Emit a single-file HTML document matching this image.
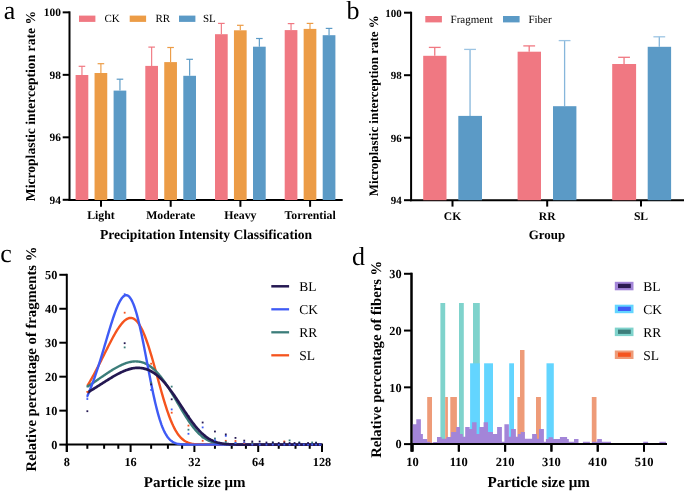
<!DOCTYPE html>
<html><head><meta charset="utf-8"><style>
html,body{margin:0;padding:0;background:#fff;}
svg{display:block;filter:blur(0.4px);font-family:"Liberation Serif",serif;text-rendering:geometricPrecision;}
</style></head><body>
<svg width="685" height="492" viewBox="0 0 685 492">
<rect width="685" height="492" fill="#fff"/>
<text x="3.80" y="18.90" font-size="26" font-weight="normal" text-anchor="start" >a</text>
<line x1="69.50" y1="11.36" x2="69.50" y2="201.00" stroke="#000" stroke-width="2" />
<line x1="68.50" y1="200.00" x2="342.70" y2="200.00" stroke="#000" stroke-width="2" />
<line x1="62.70" y1="12.36" x2="69.50" y2="12.36" stroke="#000" stroke-width="2" />
<text x="60.90" y="16.26" font-size="11.4" font-weight="bold" text-anchor="end" >100</text>
<line x1="62.70" y1="74.84" x2="69.50" y2="74.84" stroke="#000" stroke-width="2" />
<text x="60.90" y="78.74" font-size="11.4" font-weight="bold" text-anchor="end" >98</text>
<line x1="62.70" y1="137.32" x2="69.50" y2="137.32" stroke="#000" stroke-width="2" />
<text x="60.90" y="141.22" font-size="11.4" font-weight="bold" text-anchor="end" >96</text>
<line x1="62.70" y1="199.80" x2="69.50" y2="199.80" stroke="#000" stroke-width="2" />
<text x="60.90" y="203.70" font-size="11.4" font-weight="bold" text-anchor="end" >94</text>
<line x1="101.00" y1="200.00" x2="101.00" y2="206.80" stroke="#000" stroke-width="2" />
<text x="101.00" y="218.90" font-size="11.8" font-weight="bold" text-anchor="middle" >Light</text>
<line x1="170.70" y1="200.00" x2="170.70" y2="206.80" stroke="#000" stroke-width="2" />
<text x="170.70" y="218.90" font-size="11.8" font-weight="bold" text-anchor="middle" >Moderate</text>
<line x1="240.40" y1="200.00" x2="240.40" y2="206.80" stroke="#000" stroke-width="2" />
<text x="240.40" y="218.90" font-size="11.8" font-weight="bold" text-anchor="middle" >Heavy</text>
<line x1="310.10" y1="200.00" x2="310.10" y2="206.80" stroke="#000" stroke-width="2" />
<text x="310.10" y="218.90" font-size="11.8" font-weight="bold" text-anchor="middle" >Torrential</text>
<text x="206.00" y="239.20" font-size="13.62" font-weight="bold" text-anchor="middle" >Precipitation Intensity Classification</text>
<text transform="translate(35.30,106.10) rotate(-90)" font-size="13.6" font-weight="bold" text-anchor="middle">Microplastic interception rate %</text>
<line x1="81.95" y1="66.30" x2="81.95" y2="75.00" stroke="#F07882" stroke-width="1.15" />
<line x1="78.65" y1="66.30" x2="85.25" y2="66.30" stroke="#F07882" stroke-width="1.2" />
<rect x="75.60" y="75.00" width="12.70" height="125.00" fill="#F07882"/>
<line x1="100.90" y1="63.70" x2="100.90" y2="73.00" stroke="#EC9C46" stroke-width="1.15" />
<line x1="97.60" y1="63.70" x2="104.20" y2="63.70" stroke="#EC9C46" stroke-width="1.2" />
<rect x="94.55" y="73.00" width="12.70" height="127.00" fill="#EC9C46"/>
<line x1="119.95" y1="79.20" x2="119.95" y2="90.60" stroke="#5B9AC6" stroke-width="1.15" />
<line x1="116.65" y1="79.20" x2="123.25" y2="79.20" stroke="#5B9AC6" stroke-width="1.2" />
<rect x="113.60" y="90.60" width="12.70" height="109.40" fill="#5B9AC6"/>
<line x1="151.65" y1="47.10" x2="151.65" y2="65.90" stroke="#F07882" stroke-width="1.15" />
<line x1="148.35" y1="47.10" x2="154.95" y2="47.10" stroke="#F07882" stroke-width="1.2" />
<rect x="145.30" y="65.90" width="12.70" height="134.10" fill="#F07882"/>
<line x1="170.60" y1="47.50" x2="170.60" y2="62.10" stroke="#EC9C46" stroke-width="1.15" />
<line x1="167.30" y1="47.50" x2="173.90" y2="47.50" stroke="#EC9C46" stroke-width="1.2" />
<rect x="164.25" y="62.10" width="12.70" height="137.90" fill="#EC9C46"/>
<line x1="189.65" y1="59.30" x2="189.65" y2="75.80" stroke="#5B9AC6" stroke-width="1.15" />
<line x1="186.35" y1="59.30" x2="192.95" y2="59.30" stroke="#5B9AC6" stroke-width="1.2" />
<rect x="183.30" y="75.80" width="12.70" height="124.20" fill="#5B9AC6"/>
<line x1="221.35" y1="23.40" x2="221.35" y2="34.20" stroke="#F07882" stroke-width="1.15" />
<line x1="218.05" y1="23.40" x2="224.65" y2="23.40" stroke="#F07882" stroke-width="1.2" />
<rect x="215.00" y="34.20" width="12.70" height="165.80" fill="#F07882"/>
<line x1="240.30" y1="25.30" x2="240.30" y2="30.30" stroke="#EC9C46" stroke-width="1.15" />
<line x1="237.00" y1="25.30" x2="243.60" y2="25.30" stroke="#EC9C46" stroke-width="1.2" />
<rect x="233.95" y="30.30" width="12.70" height="169.70" fill="#EC9C46"/>
<line x1="259.35" y1="38.50" x2="259.35" y2="46.70" stroke="#5B9AC6" stroke-width="1.15" />
<line x1="256.05" y1="38.50" x2="262.65" y2="38.50" stroke="#5B9AC6" stroke-width="1.2" />
<rect x="253.00" y="46.70" width="12.70" height="153.30" fill="#5B9AC6"/>
<line x1="291.05" y1="23.60" x2="291.05" y2="30.10" stroke="#F07882" stroke-width="1.15" />
<line x1="287.75" y1="23.60" x2="294.35" y2="23.60" stroke="#F07882" stroke-width="1.2" />
<rect x="284.70" y="30.10" width="12.70" height="169.90" fill="#F07882"/>
<line x1="310.00" y1="23.40" x2="310.00" y2="28.90" stroke="#EC9C46" stroke-width="1.15" />
<line x1="306.70" y1="23.40" x2="313.30" y2="23.40" stroke="#EC9C46" stroke-width="1.2" />
<rect x="303.65" y="28.90" width="12.70" height="171.10" fill="#EC9C46"/>
<line x1="329.05" y1="28.40" x2="329.05" y2="35.20" stroke="#5B9AC6" stroke-width="1.15" />
<line x1="325.75" y1="28.40" x2="332.35" y2="28.40" stroke="#5B9AC6" stroke-width="1.2" />
<rect x="322.70" y="35.20" width="12.70" height="164.80" fill="#5B9AC6"/>
<rect x="79.00" y="15.60" width="16.40" height="6.30" fill="#F07882"/>
<text x="104.40" y="22.40" font-size="11" font-weight="normal" text-anchor="start" >CK</text>
<rect x="129.70" y="15.60" width="16.40" height="6.30" fill="#EC9C46"/>
<text x="155.40" y="22.40" font-size="11" font-weight="normal" text-anchor="start" >RR</text>
<rect x="179.00" y="15.60" width="16.40" height="6.30" fill="#5B9AC6"/>
<text x="203.00" y="22.40" font-size="11" font-weight="normal" text-anchor="start" >SL</text>
<text x="346.60" y="18.90" font-size="26" font-weight="normal" text-anchor="start" >b</text>
<line x1="411.10" y1="11.70" x2="411.10" y2="201.20" stroke="#000" stroke-width="2" />
<line x1="410.10" y1="200.20" x2="684.00" y2="200.20" stroke="#000" stroke-width="2" />
<line x1="404.00" y1="12.70" x2="411.10" y2="12.70" stroke="#000" stroke-width="2" />
<text x="401.70" y="16.50" font-size="11" font-weight="bold" text-anchor="end" >100</text>
<line x1="404.00" y1="75.20" x2="411.10" y2="75.20" stroke="#000" stroke-width="2" />
<text x="401.70" y="79.00" font-size="11" font-weight="bold" text-anchor="end" >98</text>
<line x1="404.00" y1="137.70" x2="411.10" y2="137.70" stroke="#000" stroke-width="2" />
<text x="401.70" y="141.50" font-size="11" font-weight="bold" text-anchor="end" >96</text>
<line x1="404.00" y1="200.20" x2="411.10" y2="200.20" stroke="#000" stroke-width="2" />
<text x="401.70" y="204.00" font-size="11" font-weight="bold" text-anchor="end" >94</text>
<line x1="452.50" y1="200.20" x2="452.50" y2="206.60" stroke="#000" stroke-width="2" />
<text x="452.50" y="219.50" font-size="11.6" font-weight="bold" text-anchor="middle" >CK</text>
<line x1="547.20" y1="200.20" x2="547.20" y2="206.60" stroke="#000" stroke-width="2" />
<text x="547.20" y="219.50" font-size="11.6" font-weight="bold" text-anchor="middle" >RR</text>
<line x1="641.00" y1="200.20" x2="641.00" y2="206.60" stroke="#000" stroke-width="2" />
<text x="641.00" y="219.50" font-size="11.6" font-weight="bold" text-anchor="middle" >SL</text>
<text x="547.00" y="238.90" font-size="12.9" font-weight="bold" text-anchor="middle" >Group</text>
<text transform="translate(377.60,105.85) rotate(-90)" font-size="12.94" font-weight="bold" text-anchor="middle">Microplastic interception rate %</text>
<line x1="434.75" y1="47.40" x2="434.75" y2="55.80" stroke="#F07882" stroke-width="1.3" />
<line x1="428.85" y1="47.40" x2="440.65" y2="47.40" stroke="#F07882" stroke-width="1.3" />
<rect x="423.20" y="55.80" width="23.30" height="144.40" fill="#F07882"/>
<line x1="470.05" y1="49.40" x2="470.05" y2="115.90" stroke="#86B6DB" stroke-width="1.3" />
<line x1="464.15" y1="49.40" x2="475.95" y2="49.40" stroke="#9CC4E3" stroke-width="1.3" />
<rect x="458.30" y="115.90" width="23.70" height="84.30" fill="#5B9AC6"/>
<line x1="529.20" y1="45.90" x2="529.20" y2="51.70" stroke="#F07882" stroke-width="1.3" />
<line x1="523.30" y1="45.90" x2="535.10" y2="45.90" stroke="#F07882" stroke-width="1.3" />
<rect x="517.60" y="51.70" width="23.40" height="148.50" fill="#F07882"/>
<line x1="564.60" y1="40.60" x2="564.60" y2="106.20" stroke="#86B6DB" stroke-width="1.3" />
<line x1="558.70" y1="40.60" x2="570.50" y2="40.60" stroke="#9CC4E3" stroke-width="1.3" />
<rect x="553.00" y="106.20" width="23.40" height="94.00" fill="#5B9AC6"/>
<line x1="624.05" y1="57.30" x2="624.05" y2="64.00" stroke="#F07882" stroke-width="1.3" />
<line x1="618.15" y1="57.30" x2="629.95" y2="57.30" stroke="#F07882" stroke-width="1.3" />
<rect x="612.20" y="64.00" width="23.90" height="136.20" fill="#F07882"/>
<line x1="659.30" y1="36.80" x2="659.30" y2="46.80" stroke="#86B6DB" stroke-width="1.3" />
<line x1="653.40" y1="36.80" x2="665.20" y2="36.80" stroke="#9CC4E3" stroke-width="1.3" />
<rect x="647.70" y="46.80" width="23.40" height="153.40" fill="#5B9AC6"/>
<rect x="425.30" y="16.00" width="16.60" height="6.40" fill="#F07882"/>
<text x="450.60" y="22.60" font-size="11" font-weight="normal" text-anchor="start" >Fragment</text>
<rect x="503.00" y="16.00" width="16.60" height="6.40" fill="#5B9AC6"/>
<text x="528.40" y="22.60" font-size="11" font-weight="normal" text-anchor="start" >Fiber</text>
<text x="0.20" y="262.30" font-size="26" font-weight="normal" text-anchor="start" >c</text>
<line x1="66.80" y1="273.80" x2="66.80" y2="452.00" stroke="#000" stroke-width="2" />
<line x1="65.80" y1="444.60" x2="323.00" y2="444.60" stroke="#000" stroke-width="2" />
<line x1="59.30" y1="444.60" x2="66.80" y2="444.60" stroke="#000" stroke-width="2" />
<text x="57.40" y="448.90" font-size="12.3" font-weight="bold" text-anchor="end" >0</text>
<line x1="59.30" y1="410.64" x2="66.80" y2="410.64" stroke="#000" stroke-width="2" />
<text x="57.40" y="414.94" font-size="12.3" font-weight="bold" text-anchor="end" >10</text>
<line x1="59.30" y1="376.68" x2="66.80" y2="376.68" stroke="#000" stroke-width="2" />
<text x="57.40" y="380.98" font-size="12.3" font-weight="bold" text-anchor="end" >20</text>
<line x1="59.30" y1="342.72" x2="66.80" y2="342.72" stroke="#000" stroke-width="2" />
<text x="57.40" y="347.02" font-size="12.3" font-weight="bold" text-anchor="end" >30</text>
<line x1="59.30" y1="308.76" x2="66.80" y2="308.76" stroke="#000" stroke-width="2" />
<text x="57.40" y="313.06" font-size="12.3" font-weight="bold" text-anchor="end" >40</text>
<line x1="59.30" y1="274.80" x2="66.80" y2="274.80" stroke="#000" stroke-width="2" />
<text x="57.40" y="279.10" font-size="12.3" font-weight="bold" text-anchor="end" >50</text>
<line x1="66.80" y1="444.60" x2="66.80" y2="452.00" stroke="#000" stroke-width="2" />
<text x="66.80" y="466.30" font-size="12.3" font-weight="bold" text-anchor="middle" >8</text>
<line x1="130.60" y1="444.60" x2="130.60" y2="452.00" stroke="#000" stroke-width="2" />
<text x="130.60" y="466.30" font-size="12.3" font-weight="bold" text-anchor="middle" >16</text>
<line x1="194.40" y1="444.60" x2="194.40" y2="452.00" stroke="#000" stroke-width="2" />
<text x="194.40" y="466.30" font-size="12.3" font-weight="bold" text-anchor="middle" >32</text>
<line x1="258.20" y1="444.60" x2="258.20" y2="452.00" stroke="#000" stroke-width="2" />
<text x="258.20" y="466.30" font-size="12.3" font-weight="bold" text-anchor="middle" >64</text>
<line x1="322.00" y1="444.60" x2="322.00" y2="452.00" stroke="#000" stroke-width="2" />
<text x="322.00" y="466.30" font-size="12.3" font-weight="bold" text-anchor="middle" >128</text>
<line x1="87.34" y1="444.60" x2="87.34" y2="448.80" stroke="#000" stroke-width="2" />
<line x1="104.12" y1="444.60" x2="104.12" y2="448.80" stroke="#000" stroke-width="2" />
<line x1="118.31" y1="444.60" x2="118.31" y2="448.80" stroke="#000" stroke-width="2" />
<line x1="151.14" y1="444.60" x2="151.14" y2="448.80" stroke="#000" stroke-width="2" />
<line x1="167.92" y1="444.60" x2="167.92" y2="448.80" stroke="#000" stroke-width="2" />
<line x1="182.11" y1="444.60" x2="182.11" y2="448.80" stroke="#000" stroke-width="2" />
<line x1="214.94" y1="444.60" x2="214.94" y2="448.80" stroke="#000" stroke-width="2" />
<line x1="231.72" y1="444.60" x2="231.72" y2="448.80" stroke="#000" stroke-width="2" />
<line x1="245.91" y1="444.60" x2="245.91" y2="448.80" stroke="#000" stroke-width="2" />
<line x1="278.74" y1="444.60" x2="278.74" y2="448.80" stroke="#000" stroke-width="2" />
<line x1="295.52" y1="444.60" x2="295.52" y2="448.80" stroke="#000" stroke-width="2" />
<line x1="309.71" y1="444.60" x2="309.71" y2="448.80" stroke="#000" stroke-width="2" />
<text x="194.70" y="487.20" font-size="15" font-weight="bold" text-anchor="middle" >Particle size μm</text>
<text transform="translate(36.30,359.00) rotate(-90)" font-size="14.7" font-weight="bold" text-anchor="middle">Relative percentage of fragments %</text>
<polyline points="87.34,385.86 88.25,384.34 89.17,382.81 90.09,381.24 91.00,379.65 91.92,378.03 92.83,376.38 93.75,374.71 94.67,373.02 95.58,371.31 96.50,369.58 97.41,367.82 98.33,366.05 99.25,364.27 100.16,362.47 101.08,360.65 101.99,358.83 102.91,357.00 103.82,355.17 104.74,353.33 105.66,351.50 106.57,349.67 107.49,347.85 108.40,346.03 109.32,344.24 110.24,342.46 111.15,340.71 112.07,338.98 112.98,337.28 113.90,335.62 114.82,334.00 115.73,332.43 116.65,330.91 117.56,329.44 118.48,328.04 119.39,326.70 120.31,325.44 121.23,324.25 122.14,323.15 123.06,322.14 123.97,321.22 124.89,320.41 125.81,319.70 126.72,319.10 127.64,318.62 128.55,318.26 129.47,318.03 130.38,317.93 131.30,317.97 132.22,318.15 133.13,318.47 134.05,318.94 134.96,319.56 135.88,320.34 136.80,321.27 137.71,322.35 138.63,323.59 139.54,324.99 140.46,326.54 141.38,328.25 142.29,330.10 143.21,332.11 144.12,334.26 145.04,336.54 145.95,338.96 146.87,341.51 147.79,344.18 148.70,346.96 149.62,349.84 150.53,352.82 151.45,355.88 152.37,359.02 153.28,362.22 154.20,365.47 155.11,368.77 156.03,372.09 156.94,375.43 157.86,378.78 158.78,382.12 159.69,385.44 160.61,388.73 161.52,391.98 162.44,395.17 163.36,398.31 164.27,401.36 165.19,404.34 166.10,407.22 167.02,410.01 167.94,412.69 168.85,415.26 169.77,417.71 170.68,420.04 171.60,422.25 172.51,424.34 173.43,426.29 174.35,428.13 175.26,429.83 176.18,431.41 177.09,432.87 178.01,434.21 178.93,435.44 179.84,436.56 180.76,437.57 181.67,438.49 182.59,439.31 183.51,440.04 184.42,440.69 185.34,441.26 186.25,441.77 187.17,442.21 188.08,442.59 189.00,442.92 189.92,443.21 190.83,443.45 191.75,443.66 192.66,443.83 193.58,443.98 194.50,444.10 195.41,444.20 196.33,444.28 197.24,444.35 198.16,444.40 199.07,444.45 199.99,444.48 200.91,444.51 201.82,444.53 202.74,444.55 203.65,444.56 204.57,444.57 205.49,444.58 206.40,444.58 207.32,444.59 208.23,444.59 209.15,444.59 210.07,444.60 210.98,444.60 211.90,444.60 212.81,444.60 213.73,444.60 214.64,444.60 215.56,444.60 216.48,444.60 217.39,444.60 218.31,444.60 219.22,444.60 220.14,444.60 221.06,444.60 221.97,444.60 222.89,444.60 223.80,444.60 224.72,444.60 225.64,444.60 226.55,444.60 227.47,444.60 228.38,444.60 229.30,444.60 230.21,444.60 231.13,444.60 232.05,444.60 232.96,444.60 233.88,444.60 234.79,444.60 235.71,444.60 236.63,444.60 237.54,444.60 238.46,444.60 239.37,444.60 240.29,444.60 241.20,444.60 242.12,444.60 243.04,444.60 243.95,444.60 244.87,444.60 245.78,444.60 246.70,444.60 247.62,444.60 248.53,444.60 249.45,444.60 250.36,444.60 251.28,444.60 252.20,444.60 253.11,444.60 254.03,444.60 254.94,444.60 255.86,444.60 256.77,444.60 257.69,444.60 258.61,444.60 259.52,444.60 260.44,444.60 261.35,444.60 262.27,444.60 263.19,444.60 264.10,444.60 265.02,444.60 265.93,444.60 266.85,444.60 267.76,444.60 268.68,444.60 269.60,444.60 270.51,444.60 271.43,444.60 272.34,444.60 273.26,444.60 274.18,444.60 275.09,444.60 276.01,444.60 276.92,444.60 277.84,444.60 278.76,444.60 279.67,444.60 280.59,444.60 281.50,444.60 282.42,444.60 283.33,444.60 284.25,444.60 285.17,444.60 286.08,444.60 287.00,444.60 287.91,444.60 288.83,444.60 289.75,444.60 290.66,444.60 291.58,444.60 292.49,444.60 293.41,444.60 294.33,444.60 295.24,444.60 296.16,444.60 297.07,444.60 297.99,444.60 298.90,444.60 299.82,444.60 300.74,444.60 301.65,444.60 302.57,444.60 303.48,444.60 304.40,444.60 305.32,444.60 306.23,444.60 307.15,444.60 308.06,444.60 308.98,444.60 309.89,444.60 310.81,444.60 311.73,444.60 312.64,444.60 313.56,444.60 314.47,444.60 315.39,444.60 316.31,444.60 317.22,444.60 318.14,444.60 319.05,444.60 319.97,444.60 320.89,444.60 321.80,444.60" fill="none" stroke="#F5541E" stroke-width="2.4" stroke-linejoin="round"/>
<polyline points="87.34,386.72 88.25,386.11 89.17,385.50 90.09,384.88 91.00,384.27 91.92,383.65 92.83,383.02 93.75,382.40 94.67,381.78 95.58,381.15 96.50,380.52 97.41,379.89 98.33,379.26 99.25,378.63 100.16,378.01 101.08,377.38 101.99,376.75 102.91,376.13 103.82,375.51 104.74,374.89 105.66,374.28 106.57,373.67 107.49,373.07 108.40,372.47 109.32,371.88 110.24,371.29 111.15,370.71 112.07,370.15 112.98,369.59 113.90,369.04 114.82,368.50 115.73,367.97 116.65,367.46 117.56,366.96 118.48,366.47 119.39,366.00 120.31,365.55 121.23,365.12 122.14,364.70 123.06,364.30 123.97,363.92 124.89,363.57 125.81,363.24 126.72,362.93 127.64,362.64 128.55,362.39 129.47,362.16 130.38,361.95 131.30,361.78 132.22,361.64 133.13,361.53 134.05,361.45 134.96,361.41 135.88,361.40 136.80,361.43 137.71,361.49 138.63,361.59 139.54,361.72 140.46,361.90 141.38,362.11 142.29,362.36 143.21,362.66 144.12,362.99 145.04,363.37 145.95,363.79 146.87,364.25 147.79,364.76 148.70,365.31 149.62,365.91 150.53,366.55 151.45,367.24 152.37,367.97 153.28,368.75 154.20,369.58 155.11,370.44 156.03,371.36 156.94,372.31 157.86,373.32 158.78,374.36 159.69,375.45 160.61,376.57 161.52,377.74 162.44,378.95 163.36,380.19 164.27,381.47 165.19,382.78 166.10,384.13 167.02,385.51 167.94,386.91 168.85,388.35 169.77,389.81 170.68,391.29 171.60,392.79 172.51,394.31 173.43,395.84 174.35,397.39 175.26,398.94 176.18,400.50 177.09,402.07 178.01,403.63 178.93,405.20 179.84,406.76 180.76,408.31 181.67,409.85 182.59,411.38 183.51,412.89 184.42,414.38 185.34,415.85 186.25,417.29 187.17,418.71 188.08,420.10 189.00,421.45 189.92,422.77 190.83,424.06 191.75,425.31 192.66,426.52 193.58,427.69 194.50,428.81 195.41,429.90 196.33,430.94 197.24,431.93 198.16,432.88 199.07,433.79 199.99,434.65 200.91,435.46 201.82,436.23 202.74,436.95 203.65,437.63 204.57,438.27 205.49,438.86 206.40,439.42 207.32,439.93 208.23,440.41 209.15,440.85 210.07,441.25 210.98,441.62 211.90,441.96 212.81,442.26 213.73,442.54 214.64,442.79 215.56,443.02 216.48,443.22 217.39,443.41 218.31,443.57 219.22,443.71 220.14,443.84 221.06,443.95 221.97,444.05 222.89,444.13 223.80,444.20 224.72,444.27 225.64,444.32 226.55,444.37 227.47,444.41 228.38,444.44 229.30,444.47 230.21,444.49 231.13,444.51 232.05,444.53 232.96,444.54 233.88,444.56 234.79,444.57 235.71,444.57 236.63,444.58 237.54,444.58 238.46,444.59 239.37,444.59 240.29,444.59 241.20,444.59 242.12,444.60 243.04,444.60 243.95,444.60 244.87,444.60 245.78,444.60 246.70,444.60 247.62,444.60 248.53,444.60 249.45,444.60 250.36,444.60 251.28,444.60 252.20,444.60 253.11,444.60 254.03,444.60 254.94,444.60 255.86,444.60 256.77,444.60 257.69,444.60 258.61,444.60 259.52,444.60 260.44,444.60 261.35,444.60 262.27,444.60 263.19,444.60 264.10,444.60 265.02,444.60 265.93,444.60 266.85,444.60 267.76,444.60 268.68,444.60 269.60,444.60 270.51,444.60 271.43,444.60 272.34,444.60 273.26,444.60 274.18,444.60 275.09,444.60 276.01,444.60 276.92,444.60 277.84,444.60 278.76,444.60 279.67,444.60 280.59,444.60 281.50,444.60 282.42,444.60 283.33,444.60 284.25,444.60 285.17,444.60 286.08,444.60 287.00,444.60 287.91,444.60 288.83,444.60 289.75,444.60 290.66,444.60 291.58,444.60 292.49,444.60 293.41,444.60 294.33,444.60 295.24,444.60 296.16,444.60 297.07,444.60 297.99,444.60 298.90,444.60 299.82,444.60 300.74,444.60 301.65,444.60 302.57,444.60 303.48,444.60 304.40,444.60 305.32,444.60 306.23,444.60 307.15,444.60 308.06,444.60 308.98,444.60 309.89,444.60 310.81,444.60 311.73,444.60 312.64,444.60 313.56,444.60 314.47,444.60 315.39,444.60 316.31,444.60 317.22,444.60 318.14,444.60 319.05,444.60 319.97,444.60 320.89,444.60 321.80,444.60" fill="none" stroke="#3C7D7A" stroke-width="2.4" stroke-linejoin="round"/>
<polyline points="87.34,396.09 88.25,393.99 89.17,391.81 90.09,389.57 91.00,387.26 91.92,384.87 92.83,382.42 93.75,379.90 94.67,377.32 95.58,374.67 96.50,371.96 97.41,369.19 98.33,366.37 99.25,363.49 100.16,360.57 101.08,357.60 101.99,354.60 102.91,351.56 103.82,348.50 104.74,345.42 105.66,342.34 106.57,339.25 107.49,336.17 108.40,333.10 109.32,330.07 110.24,327.08 111.15,324.14 112.07,321.26 112.98,318.46 113.90,315.75 114.82,313.14 115.73,310.65 116.65,308.30 117.56,306.09 118.48,304.04 119.39,302.17 120.31,300.49 121.23,299.02 122.14,297.77 123.06,296.75 123.97,295.97 124.89,295.45 125.81,295.20 126.72,295.22 127.64,295.53 128.55,296.11 129.47,296.99 130.38,298.16 131.30,299.62 132.22,301.38 133.13,303.42 134.05,305.76 134.96,308.38 135.88,311.27 136.80,314.42 137.71,317.82 138.63,321.46 139.54,325.31 140.46,329.36 141.38,333.60 142.29,337.99 143.21,342.51 144.12,347.14 145.04,351.86 145.95,356.64 146.87,361.45 147.79,366.27 148.70,371.07 149.62,375.82 150.53,380.51 151.45,385.10 152.37,389.58 153.28,393.93 154.20,398.13 155.11,402.16 156.03,406.01 156.94,409.66 157.86,413.12 158.78,416.36 159.69,419.40 160.61,422.21 161.52,424.82 162.44,427.21 163.36,429.39 164.27,431.37 165.19,433.16 166.10,434.76 167.02,436.19 167.94,437.45 168.85,438.57 169.77,439.54 170.68,440.38 171.60,441.10 172.51,441.72 173.43,442.25 174.35,442.69 175.26,443.07 176.18,443.37 177.09,443.63 178.01,443.84 178.93,444.00 179.84,444.14 180.76,444.25 181.67,444.33 182.59,444.40 183.51,444.45 184.42,444.49 185.34,444.52 186.25,444.54 187.17,444.56 188.08,444.57 189.00,444.58 189.92,444.58 190.83,444.59 191.75,444.59 192.66,444.60 193.58,444.60 194.50,444.60 195.41,444.60 196.33,444.60 197.24,444.60 198.16,444.60 199.07,444.60 199.99,444.60 200.91,444.60 201.82,444.60 202.74,444.60 203.65,444.60 204.57,444.60 205.49,444.60 206.40,444.60 207.32,444.60 208.23,444.60 209.15,444.60 210.07,444.60 210.98,444.60 211.90,444.60 212.81,444.60 213.73,444.60 214.64,444.60 215.56,444.60 216.48,444.60 217.39,444.60 218.31,444.60 219.22,444.60 220.14,444.60 221.06,444.60 221.97,444.60 222.89,444.60 223.80,444.60 224.72,444.60 225.64,444.60 226.55,444.60 227.47,444.60 228.38,444.60 229.30,444.60 230.21,444.60 231.13,444.60 232.05,444.60 232.96,444.60 233.88,444.60 234.79,444.60 235.71,444.60 236.63,444.60 237.54,444.60 238.46,444.60 239.37,444.60 240.29,444.60 241.20,444.60 242.12,444.60 243.04,444.60 243.95,444.60 244.87,444.60 245.78,444.60 246.70,444.60 247.62,444.60 248.53,444.60 249.45,444.60 250.36,444.60 251.28,444.60 252.20,444.60 253.11,444.60 254.03,444.60 254.94,444.60 255.86,444.60 256.77,444.60 257.69,444.60 258.61,444.60 259.52,444.60 260.44,444.60 261.35,444.60 262.27,444.60 263.19,444.60 264.10,444.60 265.02,444.60 265.93,444.60 266.85,444.60 267.76,444.60 268.68,444.60 269.60,444.60 270.51,444.60 271.43,444.60 272.34,444.60 273.26,444.60 274.18,444.60 275.09,444.60 276.01,444.60 276.92,444.60 277.84,444.60 278.76,444.60 279.67,444.60 280.59,444.60 281.50,444.60 282.42,444.60 283.33,444.60 284.25,444.60 285.17,444.60 286.08,444.60 287.00,444.60 287.91,444.60 288.83,444.60 289.75,444.60 290.66,444.60 291.58,444.60 292.49,444.60 293.41,444.60 294.33,444.60 295.24,444.60 296.16,444.60 297.07,444.60 297.99,444.60 298.90,444.60 299.82,444.60 300.74,444.60 301.65,444.60 302.57,444.60 303.48,444.60 304.40,444.60 305.32,444.60 306.23,444.60 307.15,444.60 308.06,444.60 308.98,444.60 309.89,444.60 310.81,444.60 311.73,444.60 312.64,444.60 313.56,444.60 314.47,444.60 315.39,444.60 316.31,444.60 317.22,444.60 318.14,444.60 319.05,444.60 319.97,444.60 320.89,444.60 321.80,444.60" fill="none" stroke="#3F5BF5" stroke-width="2.4" stroke-linejoin="round"/>
<polyline points="87.34,392.71 88.25,392.16 89.17,391.60 90.09,391.04 91.00,390.47 91.92,389.90 92.83,389.33 93.75,388.75 94.67,388.18 95.58,387.60 96.50,387.02 97.41,386.43 98.33,385.85 99.25,385.27 100.16,384.68 101.08,384.10 101.99,383.51 102.91,382.93 103.82,382.35 104.74,381.77 105.66,381.19 106.57,380.62 107.49,380.04 108.40,379.48 109.32,378.91 110.24,378.35 111.15,377.80 112.07,377.25 112.98,376.71 113.90,376.18 114.82,375.66 115.73,375.14 116.65,374.64 117.56,374.15 118.48,373.66 119.39,373.19 120.31,372.74 121.23,372.29 122.14,371.87 123.06,371.45 123.97,371.06 124.89,370.68 125.81,370.32 126.72,369.99 127.64,369.67 128.55,369.37 129.47,369.10 130.38,368.85 131.30,368.63 132.22,368.43 133.13,368.26 134.05,368.12 134.96,368.00 135.88,367.92 136.80,367.87 137.71,367.85 138.63,367.86 139.54,367.90 140.46,367.98 141.38,368.08 142.29,368.21 143.21,368.38 144.12,368.58 145.04,368.82 145.95,369.09 146.87,369.39 147.79,369.74 148.70,370.11 149.62,370.53 150.53,370.98 151.45,371.47 152.37,372.00 153.28,372.57 154.20,373.18 155.11,373.82 156.03,374.51 156.94,375.23 157.86,375.99 158.78,376.79 159.69,377.63 160.61,378.51 161.52,379.42 162.44,380.38 163.36,381.36 164.27,382.39 165.19,383.44 166.10,384.53 167.02,385.65 167.94,386.81 168.85,387.99 169.77,389.20 170.68,390.44 171.60,391.70 172.51,392.99 173.43,394.29 174.35,395.62 175.26,396.97 176.18,398.32 177.09,399.70 178.01,401.08 178.93,402.47 179.84,403.87 180.76,405.27 181.67,406.68 182.59,408.08 183.51,409.48 184.42,410.87 185.34,412.25 186.25,413.62 187.17,414.98 188.08,416.33 189.00,417.65 189.92,418.96 190.83,420.24 191.75,421.50 192.66,422.73 193.58,423.93 194.50,425.10 195.41,426.24 196.33,427.35 197.24,428.42 198.16,429.45 199.07,430.45 199.99,431.41 200.91,432.33 201.82,433.22 202.74,434.06 203.65,434.86 204.57,435.62 205.49,436.35 206.40,437.03 207.32,437.68 208.23,438.28 209.15,438.85 210.07,439.38 210.98,439.88 211.90,440.34 212.81,440.76 213.73,441.16 214.64,441.52 215.56,441.86 216.48,442.16 217.39,442.44 218.31,442.69 219.22,442.92 220.14,443.13 221.06,443.31 221.97,443.48 222.89,443.63 223.80,443.76 224.72,443.88 225.64,443.98 226.55,444.07 227.47,444.15 228.38,444.22 229.30,444.28 230.21,444.33 231.13,444.37 232.05,444.41 232.96,444.44 233.88,444.47 234.79,444.50 235.71,444.51 236.63,444.53 237.54,444.54 238.46,444.56 239.37,444.56 240.29,444.57 241.20,444.58 242.12,444.58 243.04,444.59 243.95,444.59 244.87,444.59 245.78,444.59 246.70,444.60 247.62,444.60 248.53,444.60 249.45,444.60 250.36,444.60 251.28,444.60 252.20,444.60 253.11,444.60 254.03,444.60 254.94,444.60 255.86,444.60 256.77,444.60 257.69,444.60 258.61,444.60 259.52,444.60 260.44,444.60 261.35,444.60 262.27,444.60 263.19,444.60 264.10,444.60 265.02,444.60 265.93,444.60 266.85,444.60 267.76,444.60 268.68,444.60 269.60,444.60 270.51,444.60 271.43,444.60 272.34,444.60 273.26,444.60 274.18,444.60 275.09,444.60 276.01,444.60 276.92,444.60 277.84,444.60 278.76,444.60 279.67,444.60 280.59,444.60 281.50,444.60 282.42,444.60 283.33,444.60 284.25,444.60 285.17,444.60 286.08,444.60 287.00,444.60 287.91,444.60 288.83,444.60 289.75,444.60 290.66,444.60 291.58,444.60 292.49,444.60 293.41,444.60 294.33,444.60 295.24,444.60 296.16,444.60 297.07,444.60 297.99,444.60 298.90,444.60 299.82,444.60 300.74,444.60 301.65,444.60 302.57,444.60 303.48,444.60 304.40,444.60 305.32,444.60 306.23,444.60 307.15,444.60 308.06,444.60 308.98,444.60 309.89,444.60 310.81,444.60 311.73,444.60 312.64,444.60 313.56,444.60 314.47,444.60 315.39,444.60 316.31,444.60 317.22,444.60 318.14,444.60 319.05,444.60 319.97,444.60 320.89,444.60 321.80,444.60" fill="none" stroke="#241852" stroke-width="2.7" stroke-linejoin="round"/>
<rect x="86.44" y="398.10" width="1.80" height="1.80" fill="#3F5BF5"/>
<rect x="86.44" y="391.00" width="1.80" height="1.80" fill="#F5541E"/>
<rect x="123.76" y="311.80" width="1.80" height="1.80" fill="#F5541E"/>
<rect x="150.24" y="362.80" width="1.80" height="1.80" fill="#F5541E"/>
<rect x="170.78" y="411.80" width="1.80" height="1.80" fill="#F5541E"/>
<rect x="187.56" y="424.70" width="1.80" height="1.80" fill="#F5541E"/>
<rect x="201.75" y="439.90" width="1.80" height="1.80" fill="#F5541E"/>
<rect x="224.88" y="439.90" width="1.80" height="1.80" fill="#F5541E"/>
<rect x="234.58" y="440.10" width="1.80" height="1.80" fill="#F5541E"/>
<rect x="243.35" y="442.10" width="1.80" height="1.80" fill="#F5541E"/>
<rect x="251.36" y="442.60" width="1.80" height="1.80" fill="#F5541E"/>
<rect x="283.42" y="440.60" width="1.80" height="1.80" fill="#F5541E"/>
<rect x="86.44" y="385.60" width="1.80" height="1.80" fill="#3C7D7A"/>
<rect x="123.76" y="346.50" width="1.80" height="1.80" fill="#3C7D7A"/>
<rect x="150.24" y="381.70" width="1.80" height="1.80" fill="#3C7D7A"/>
<rect x="170.78" y="385.70" width="1.80" height="1.80" fill="#3C7D7A"/>
<rect x="187.56" y="428.80" width="1.80" height="1.80" fill="#3C7D7A"/>
<rect x="201.75" y="436.60" width="1.80" height="1.80" fill="#3C7D7A"/>
<rect x="214.04" y="437.60" width="1.80" height="1.80" fill="#3C7D7A"/>
<rect x="224.88" y="441.10" width="1.80" height="1.80" fill="#3C7D7A"/>
<rect x="234.58" y="442.10" width="1.80" height="1.80" fill="#3C7D7A"/>
<rect x="251.36" y="442.10" width="1.80" height="1.80" fill="#3C7D7A"/>
<rect x="271.90" y="441.60" width="1.80" height="1.80" fill="#3C7D7A"/>
<rect x="288.68" y="439.50" width="1.80" height="1.80" fill="#3C7D7A"/>
<rect x="298.38" y="441.40" width="1.80" height="1.80" fill="#3C7D7A"/>
<rect x="311.24" y="441.60" width="1.80" height="1.80" fill="#3C7D7A"/>
<rect x="315.16" y="441.60" width="1.80" height="1.80" fill="#3C7D7A"/>
<rect x="86.44" y="395.60" width="1.80" height="1.80" fill="#3F5BF5"/>
<rect x="123.76" y="293.30" width="1.80" height="1.80" fill="#3F5BF5"/>
<rect x="150.24" y="389.00" width="1.80" height="1.80" fill="#3F5BF5"/>
<rect x="170.78" y="408.50" width="1.80" height="1.80" fill="#3F5BF5"/>
<rect x="187.56" y="432.90" width="1.80" height="1.80" fill="#3F5BF5"/>
<rect x="201.75" y="426.50" width="1.80" height="1.80" fill="#3F5BF5"/>
<rect x="214.04" y="439.30" width="1.80" height="1.80" fill="#3F5BF5"/>
<rect x="224.88" y="435.00" width="1.80" height="1.80" fill="#3F5BF5"/>
<rect x="234.58" y="442.10" width="1.80" height="1.80" fill="#3F5BF5"/>
<rect x="243.35" y="441.40" width="1.80" height="1.80" fill="#3F5BF5"/>
<rect x="251.36" y="443.70" width="1.80" height="1.80" fill="#3F5BF5"/>
<rect x="258.73" y="443.70" width="1.80" height="1.80" fill="#3F5BF5"/>
<rect x="265.55" y="443.70" width="1.80" height="1.80" fill="#3F5BF5"/>
<rect x="271.90" y="443.70" width="1.80" height="1.80" fill="#3F5BF5"/>
<rect x="277.84" y="443.70" width="1.80" height="1.80" fill="#3F5BF5"/>
<rect x="283.42" y="443.70" width="1.80" height="1.80" fill="#3F5BF5"/>
<rect x="288.68" y="443.70" width="1.80" height="1.80" fill="#3F5BF5"/>
<rect x="293.66" y="443.70" width="1.80" height="1.80" fill="#3F5BF5"/>
<rect x="298.38" y="443.70" width="1.80" height="1.80" fill="#3F5BF5"/>
<rect x="302.87" y="443.70" width="1.80" height="1.80" fill="#3F5BF5"/>
<rect x="307.15" y="443.70" width="1.80" height="1.80" fill="#3F5BF5"/>
<rect x="311.24" y="443.70" width="1.80" height="1.80" fill="#3F5BF5"/>
<rect x="315.16" y="443.70" width="1.80" height="1.80" fill="#3F5BF5"/>
<rect x="318.92" y="443.70" width="1.80" height="1.80" fill="#3F5BF5"/>
<rect x="86.44" y="410.30" width="1.80" height="1.80" fill="#241852"/>
<rect x="123.76" y="342.30" width="1.80" height="1.80" fill="#241852"/>
<rect x="150.24" y="383.50" width="1.80" height="1.80" fill="#241852"/>
<rect x="170.78" y="398.40" width="1.80" height="1.80" fill="#241852"/>
<rect x="187.56" y="415.40" width="1.80" height="1.80" fill="#241852"/>
<rect x="201.75" y="421.60" width="1.80" height="1.80" fill="#241852"/>
<rect x="214.04" y="430.60" width="1.80" height="1.80" fill="#241852"/>
<rect x="224.88" y="433.50" width="1.80" height="1.80" fill="#241852"/>
<rect x="234.58" y="437.00" width="1.80" height="1.80" fill="#241852"/>
<rect x="243.35" y="439.70" width="1.80" height="1.80" fill="#241852"/>
<rect x="251.36" y="440.60" width="1.80" height="1.80" fill="#241852"/>
<rect x="258.73" y="440.60" width="1.80" height="1.80" fill="#241852"/>
<rect x="265.55" y="441.60" width="1.80" height="1.80" fill="#241852"/>
<rect x="271.90" y="441.60" width="1.80" height="1.80" fill="#241852"/>
<rect x="277.84" y="442.10" width="1.80" height="1.80" fill="#241852"/>
<rect x="283.42" y="441.60" width="1.80" height="1.80" fill="#241852"/>
<rect x="288.68" y="442.10" width="1.80" height="1.80" fill="#241852"/>
<rect x="293.66" y="442.10" width="1.80" height="1.80" fill="#241852"/>
<rect x="298.38" y="442.10" width="1.80" height="1.80" fill="#241852"/>
<rect x="307.15" y="442.10" width="1.80" height="1.80" fill="#241852"/>
<rect x="315.16" y="442.10" width="1.80" height="1.80" fill="#241852"/>
<line x1="271.30" y1="286.30" x2="289.10" y2="286.30" stroke="#241852" stroke-width="2.5" />
<text x="299.30" y="291.10" font-size="13.5" font-weight="normal" text-anchor="start" >BL</text>
<line x1="271.30" y1="309.30" x2="289.10" y2="309.30" stroke="#3F5BF5" stroke-width="2.3" />
<text x="299.30" y="314.10" font-size="13.5" font-weight="normal" text-anchor="start" >CK</text>
<line x1="271.30" y1="332.30" x2="289.10" y2="332.30" stroke="#3C7D7A" stroke-width="2.3" />
<text x="299.30" y="337.10" font-size="13.5" font-weight="normal" text-anchor="start" >RR</text>
<line x1="271.30" y1="355.30" x2="289.10" y2="355.30" stroke="#F5541E" stroke-width="2.3" />
<text x="299.30" y="360.10" font-size="13.5" font-weight="normal" text-anchor="start" >SL</text>
<text x="352.00" y="264.80" font-size="26" font-weight="normal" text-anchor="start" >d</text>
<line x1="411.50" y1="272.79" x2="411.50" y2="451.60" stroke="#000" stroke-width="2" />
<line x1="410.50" y1="444.10" x2="667.00" y2="444.10" stroke="#000" stroke-width="2" />
<line x1="404.00" y1="444.10" x2="411.50" y2="444.10" stroke="#000" stroke-width="2" />
<text x="401.60" y="448.40" font-size="12.3" font-weight="bold" text-anchor="end" >0</text>
<line x1="404.00" y1="387.33" x2="411.50" y2="387.33" stroke="#000" stroke-width="2" />
<text x="401.60" y="391.63" font-size="12.3" font-weight="bold" text-anchor="end" >10</text>
<line x1="404.00" y1="330.56" x2="411.50" y2="330.56" stroke="#000" stroke-width="2" />
<text x="401.60" y="334.86" font-size="12.3" font-weight="bold" text-anchor="end" >20</text>
<line x1="404.00" y1="273.79" x2="411.50" y2="273.79" stroke="#000" stroke-width="2" />
<text x="401.60" y="278.09" font-size="12.3" font-weight="bold" text-anchor="end" >30</text>
<line x1="412.53" y1="444.10" x2="412.53" y2="451.60" stroke="#000" stroke-width="2" />
<text x="412.53" y="465.60" font-size="12.5" font-weight="bold" text-anchor="middle" >10</text>
<line x1="458.83" y1="444.10" x2="458.83" y2="451.60" stroke="#000" stroke-width="2" />
<text x="458.83" y="465.60" font-size="12.5" font-weight="bold" text-anchor="middle" >110</text>
<line x1="505.13" y1="444.10" x2="505.13" y2="451.60" stroke="#000" stroke-width="2" />
<text x="505.13" y="465.60" font-size="12.5" font-weight="bold" text-anchor="middle" >210</text>
<line x1="551.43" y1="444.10" x2="551.43" y2="451.60" stroke="#000" stroke-width="2" />
<text x="551.43" y="465.60" font-size="12.5" font-weight="bold" text-anchor="middle" >310</text>
<line x1="597.73" y1="444.10" x2="597.73" y2="451.60" stroke="#000" stroke-width="2" />
<text x="597.73" y="465.60" font-size="12.5" font-weight="bold" text-anchor="middle" >410</text>
<line x1="644.03" y1="444.10" x2="644.03" y2="451.60" stroke="#000" stroke-width="2" />
<text x="644.03" y="465.60" font-size="12.5" font-weight="bold" text-anchor="middle" >510</text>
<text x="538.70" y="487.40" font-size="15.1" font-weight="bold" text-anchor="middle" >Particle size μm</text>
<text transform="translate(381.30,359.30) rotate(-90)" font-size="14.7" font-weight="bold" text-anchor="middle">Relative percentage of fibers %</text>
<rect x="440.40" y="303.00" width="4.80" height="141.10" fill="#7FD3CC"/>
<rect x="459.00" y="303.00" width="4.80" height="141.10" fill="#7FD3CC"/>
<rect x="473.00" y="303.00" width="6.80" height="141.10" fill="#7FD3CC"/>
<rect x="470.10" y="363.30" width="9.70" height="80.80" fill="#63D5FF"/>
<rect x="484.10" y="363.30" width="8.90" height="80.80" fill="#63D5FF"/>
<rect x="509.20" y="363.30" width="4.80" height="80.80" fill="#63D5FF"/>
<rect x="546.50" y="363.30" width="7.30" height="80.80" fill="#63D5FF"/>
<rect x="427.20" y="397.00" width="4.80" height="47.10" fill="#EE9B78"/>
<rect x="445.20" y="397.00" width="2.70" height="47.10" fill="#EE9B78"/>
<rect x="450.30" y="397.00" width="6.60" height="47.10" fill="#EE9B78"/>
<rect x="517.40" y="397.00" width="2.60" height="47.10" fill="#EE9B78"/>
<rect x="520.00" y="350.00" width="4.50" height="94.10" fill="#EE9B78"/>
<rect x="536.00" y="397.00" width="4.90" height="47.10" fill="#EE9B78"/>
<rect x="591.80" y="397.00" width="4.70" height="47.10" fill="#EE9B78"/>
<path d="M412.50,444.1V424.30H416.30V444.1ZM416.30,444.1V419.30H420.90V444.1ZM420.90,444.1V434.10H422.90V444.1ZM422.90,444.1V438.90H427.30V444.1ZM427.30,444.1V441.70H430.10V444.1ZM430.10,444.1V442.70H433.20V444.1ZM433.20,444.1V442.00H437.00V444.1ZM437.00,444.1V437.00H441.70V444.1ZM441.70,444.1V438.80H446.60V444.1ZM446.60,444.1V437.00H451.10V444.1ZM451.10,444.1V432.00H456.20V444.1ZM456.20,444.1V427.10H460.00V444.1ZM460.00,444.1V434.00H462.80V444.1ZM462.80,444.1V436.70H465.20V444.1ZM465.20,444.1V427.10H469.70V444.1ZM469.70,444.1V428.90H472.10V444.1ZM472.10,444.1V422.20H476.60V444.1ZM476.60,444.1V434.00H479.30V444.1ZM479.30,444.1V427.10H483.60V444.1ZM483.60,444.1V422.20H488.00V444.1ZM488.00,444.1V432.00H493.00V444.1ZM493.00,444.1V434.00H497.10V444.1ZM497.10,444.1V427.10H501.90V444.1ZM501.90,444.1V441.70H504.40V444.1ZM504.40,444.1V424.30H508.90V444.1ZM508.90,444.1V436.70H511.00V444.1ZM511.00,444.1V429.10H515.90V444.1ZM515.90,444.1V436.70H517.90V444.1ZM517.90,444.1V434.00H520.70V444.1ZM520.70,444.1V432.00H524.90V444.1ZM524.90,444.1V438.80H532.10V444.1ZM532.10,444.1V434.00H536.90V444.1ZM536.90,444.1V438.80H539.00V444.1ZM539.00,444.1V428.90H543.90V444.1ZM543.90,444.1V441.70H545.90V444.1ZM545.90,444.1V439.00H548.50V444.1ZM548.50,444.1V437.20H552.90V444.1ZM552.90,444.1V439.10H559.90V444.1ZM559.90,444.1V437.00H567.10V444.1ZM567.10,444.1V439.10H568.80V444.1ZM568.80,444.1V441.80H574.00V444.1ZM574.00,444.1V439.10H578.50V444.1ZM582.90,444.1V441.70H589.90V444.1ZM592.00,444.1V441.70H597.20V444.1ZM597.20,444.1V439.10H601.90V444.1ZM601.90,444.1V441.70H611.00V444.1ZM643.20,444.1V441.70H648.10V444.1ZM659.40,444.1V441.70H666.00V444.1Z" fill="#A385D8"/>
<line x1="411.50" y1="272.79" x2="411.50" y2="451.60" stroke="#000" stroke-width="2" />
<line x1="410.50" y1="444.10" x2="667.00" y2="444.10" stroke="#000" stroke-width="2" />
<line x1="412.53" y1="444.10" x2="412.53" y2="451.60" stroke="#000" stroke-width="2" />
<line x1="458.83" y1="444.10" x2="458.83" y2="451.60" stroke="#000" stroke-width="2" />
<line x1="505.13" y1="444.10" x2="505.13" y2="451.60" stroke="#000" stroke-width="2" />
<line x1="551.43" y1="444.10" x2="551.43" y2="451.60" stroke="#000" stroke-width="2" />
<line x1="597.73" y1="444.10" x2="597.73" y2="451.60" stroke="#000" stroke-width="2" />
<line x1="644.03" y1="444.10" x2="644.03" y2="451.60" stroke="#000" stroke-width="2" />
<rect x="614.80" y="281.80" width="18.70" height="8.50" fill="#A385D8"/>
<rect x="618.00" y="283.80" width="12.80" height="4.30" fill="#2A1A50"/>
<text x="643.30" y="290.80" font-size="13.5" font-weight="normal" text-anchor="start" >BL</text>
<rect x="614.80" y="304.70" width="18.70" height="8.50" fill="#63D5FF"/>
<rect x="618.00" y="306.70" width="12.80" height="4.30" fill="#3F5BF5"/>
<text x="643.30" y="313.70" font-size="13.5" font-weight="normal" text-anchor="start" >CK</text>
<rect x="614.80" y="327.60" width="18.70" height="8.50" fill="#7FD3CC"/>
<rect x="618.00" y="329.60" width="12.80" height="4.30" fill="#3C7D7A"/>
<text x="643.30" y="336.60" font-size="13.5" font-weight="normal" text-anchor="start" >RR</text>
<rect x="614.80" y="350.50" width="18.70" height="8.50" fill="#EE9B78"/>
<rect x="618.00" y="352.50" width="12.80" height="4.30" fill="#F5541E"/>
<text x="643.30" y="359.50" font-size="13.5" font-weight="normal" text-anchor="start" >SL</text>
</svg></body></html>
